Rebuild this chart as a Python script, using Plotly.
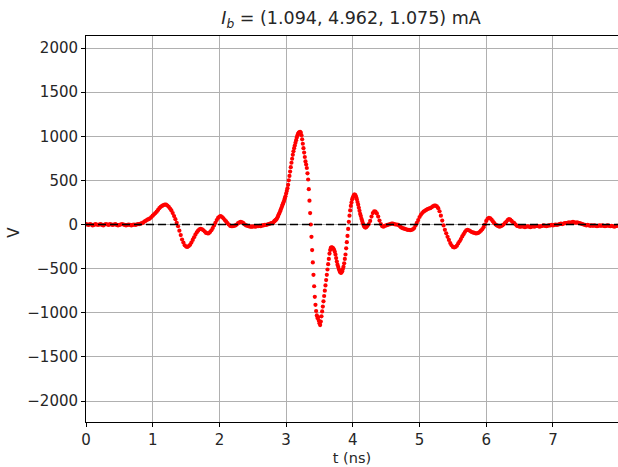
import numpy as np
import plotly.graph_objects as go

# Segment A: t = 0.00 .. 2.78 ns, step 0.02
v_a = [
    5, 0, -5, 5, 0, -10, -5, 5, 0, -5,
    0, 5, -5, -10, 0, 5, 0, -5, 5, 0,
    -5, 0, 5, -5, -10, -5, 0, 5, 0, -5,
    -10, -5, 0, -5, -10, -5, 0, -5, 0, 5,
    5, 10, 15, 25, 35, 45, 55, 60, 70, 85,
    100, 115, 130, 145, 165, 185, 200, 210, 220, 225,
    225, 215, 200, 180, 160, 130, 95, 60, 20, -20,
    -70, -120, -170, -205, -235, -250, -255, -245, -230, -205,
    -175, -145, -115, -90, -70, -55, -50, -55, -65, -80,
    -95, -100, -100, -85, -65, -40, -10, 20, 50, 75,
    90, 95, 85, 70, 50, 35, 15, 0, -15, -20,
    -20, -15, -10, 0, 15, 25, 30, 25, 15, 0,
    -10, -15, -20, -25, -25, -25, -20, -25, -20, -20,
    -15, -20, -10, -10, -5, -5, 0, 5, 10, 15,
]
# Segment B: t = 2.80 .. 4.20 ns, step 0.01
v_b = [
    15, 25, 35, 40, 50, 55, 65, 80, 95, 115,
    130, 150, 170, 190, 210, 230, 250, 270, 295, 320,
    350, 380, 410, 450, 500, 550, 600, 650, 700, 745,
    790, 830, 865, 895, 925, 955, 985, 1010, 1030, 1040,
    1045, 1050, 1040, 1010, 965, 915, 865, 815, 765, 715,
    680, 640, 580, 510, 400, 270, 130, 0, -140, -290,
    -430, -570, -700, -820, -910, -980, -1030, -1060, -1050, -1090,
    -1120, -1140, -1100, -1040, -985, -930, -870, -810, -750, -690,
    -630, -570, -510, -450, -390, -330, -290, -265, -260, -262,
    -265, -275, -290, -310, -340, -380, -420, -455, -480, -505,
    -525, -540, -548, -545, -530, -505, -480, -440, -390, -340,
    -270, -200, -130, -50, 30, 100, 160, 210, 250, 285,
    305, 325, 338, 340, 330, 310, 285, 255, 225, 190,
    155, 120, 95, 65, 40, 15, -5, -20, -30, -35,
    -30,
]
# Segment C: t = 4.22 .. 7.96 ns, step 0.02
v_c = [
    -15, 5, 40, 90, 130, 150, 145, 125, 90, 45,
    5, -20, -25, -15, -10, -5, 0, 5, 10, 10,
    5, 0, 0, -5, -15, -30, -40, -45, -50, -55,
    -60, -60, -65, -60, -55, -40, -10, 20, 50, 85,
    110, 130, 145, 155, 165, 175, 180, 185, 195, 205,
    215, 215, 205, 185, 150, 100, 45, -10, -60, -100,
    -140, -175, -210, -235, -255, -260, -255, -240, -215, -190,
    -165, -135, -110, -85, -65, -60, -65, -75, -85, -90,
    -95, -100, -100, -95, -85, -70, -55, -30, 0, 40,
    65, 75, 70, 55, 35, 15, 0, -10, -20, -25,
    -20, -10, 0, 15, 30, 50, 60, 55, 40, 25,
    15, 0, -15, -20, -25, -25, -20, -25, -30, -25,
    -20, -25, -30, -25, -20, -25, -20, -15, -20, -25,
    -20, -15, -10, -15, -20, -15, -10, -10, -5, -10,
    -5, 0, -5, 0, 5, 10, 5, 10, 15, 15,
    20, 25, 20, 25, 30, 25, 20, 25, 20, 15,
    10, 5, 0, -5, -10, -5, -10, -15, -10, -15,
    -10, -15, -20, -15, -10, -15, -10, -15, -20, -15,
    -10, -15, -20, -15, -20, -25, -20, -15,
]

t_a = np.round(0.00 + 0.02 * np.arange(len(v_a)), 3)
t_b = np.round(2.80 + 0.01 * np.arange(len(v_b)), 3)
t_c = np.round(4.22 + 0.02 * np.arange(len(v_c)), 3)

t = np.concatenate([t_a, t_b, t_c])
v = np.concatenate([v_a, v_b, v_c])

x_ticks = [0, 1, 2, 3, 4, 5, 6, 7]
y_ticks = [-2000, -1500, -1000, -500, 0, 500, 1000, 1500, 2000]
title_text = "<i>I</i><sub><i>b</i></sub> = (1.094, 4.962, 1.075) mA"

font = "DejaVu Sans"
txt = "#262626"

fig = go.Figure()
fig.add_trace(go.Scatter(
    x=t, y=v, mode="markers",
    marker=dict(color="#ff0000", size=4.2, line=dict(width=0)),
    showlegend=False, hoverinfo="skip",
))
fig.add_hline(y=0, line=dict(color="black", width=1.6, dash="8px,4px"))

axis_common = dict(
    showgrid=True, gridcolor="#b0b0b0", gridwidth=0.8,
    zeroline=False, showline=True, linecolor="black", linewidth=0.9,
    ticks="outside", ticklen=4, tickwidth=0.8, tickcolor="black",
    tickfont=dict(family=font, size=15, color=txt),
    automargin=False,
)

fig.update_layout(
    width=618, height=467,
    margin=dict(l=86, r=0, t=36, b=45),
    paper_bgcolor="white", plot_bgcolor="white",
    title=dict(text=title_text, x=351 / 618, xanchor="center", y=1 - 18 / 467,
               yanchor="middle", yref="container", xref="container",
               font=dict(family=font, size=17.5, color=txt)),
    xaxis=dict(range=[0, 7.975], tickvals=x_ticks, mirror=True,
               title=dict(text="t (ns)", standoff=4,
                          font=dict(family=font, size=14.5, color=txt)),
               **axis_common),
    yaxis=dict(range=[-2238, 2136], tickvals=y_ticks, tickformat="d",
               **axis_common),
)
# y-axis title placed as text at the reference position
fig.add_annotation(text="V", xref="paper", yref="paper",
                   x=(14 - 86) / 532, y=0.49, xanchor="center", yanchor="middle",
                   textangle=-90, showarrow=False,
                   font=dict(family=font, size=15, color=txt))

fig.write_html("out.html")
